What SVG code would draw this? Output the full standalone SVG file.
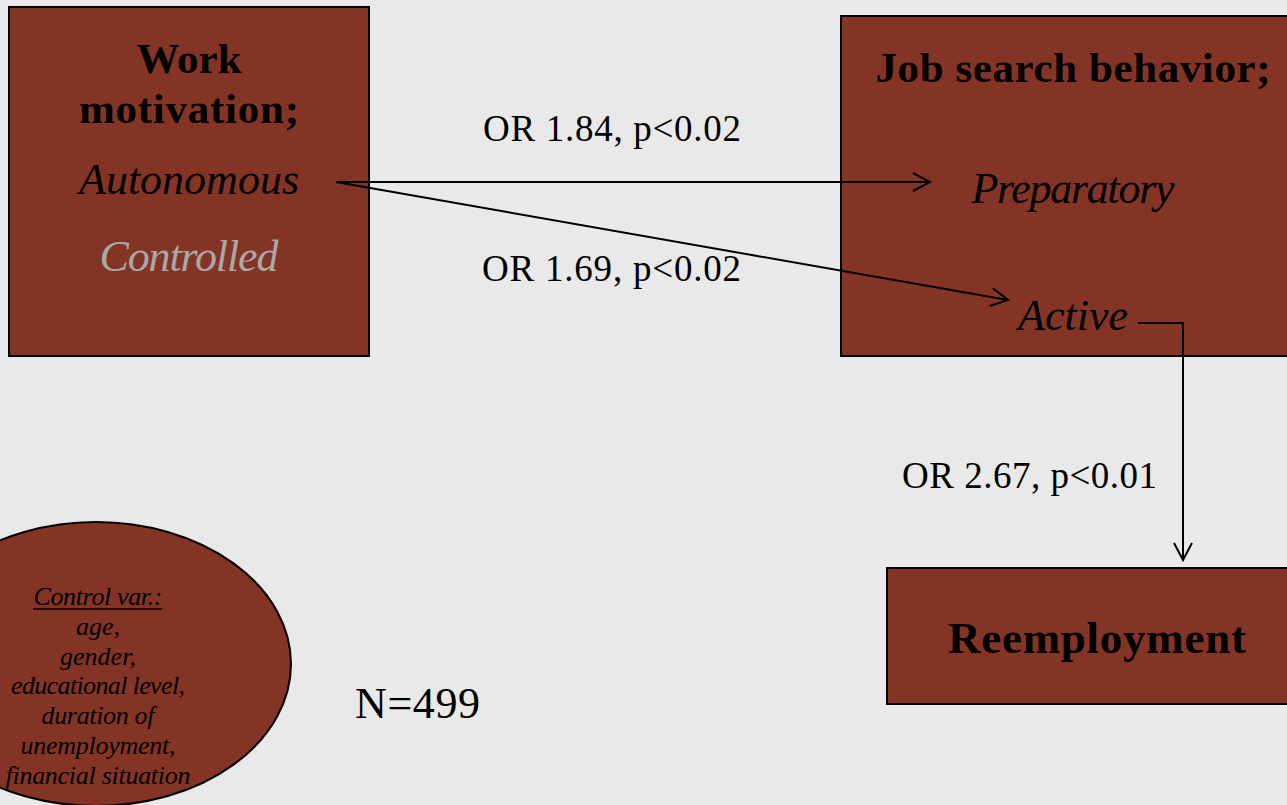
<svg xmlns="http://www.w3.org/2000/svg" width="1287" height="805" viewBox="0 0 1287 805">
<defs>
<style>
.box{fill:#843424;stroke:#000;stroke-width:2}
.t{font-family:"Liberation Serif","Times New Roman",serif;fill:#000}
.b{font-weight:bold;font-size:43px}
.i{font-style:italic;font-size:44px}
.lbl{font-size:37px}
.sm{font-style:italic;font-size:26px}
.c{stroke:#000;stroke-width:2;fill:none}
</style>
<marker id="arr" viewBox="0 0 20 20" refX="18" refY="10" markerWidth="20" markerHeight="20" markerUnits="userSpaceOnUse" orient="auto">
<path d="M1,1 L18,10 L1,19" fill="none" stroke="#000" stroke-width="2"/>
</marker>
</defs>
<rect width="1287" height="805" fill="#e9e9e9"/>
<g id="work-motivation">
<rect class="box" x="9" y="7" width="360" height="349"/>
<text class="t b" x="189" y="73" text-anchor="middle">Work</text>
<text class="t b" x="189" y="123" text-anchor="middle" textLength="220">motivation;</text>
<text class="t i" x="189" y="194" text-anchor="middle" textLength="220">Autonomous</text>
<text class="t i" x="189" y="271" text-anchor="middle" textLength="179" style="fill:#a9a9a9">Controlled</text>
</g>
<g id="job-search">
<rect class="box" x="841" y="16" width="450" height="340"/>
<text class="t b" x="1073" y="82" text-anchor="middle" textLength="395">Job search behavior;</text>
<text class="t i" x="1073" y="203" text-anchor="middle" textLength="203">Preparatory</text>
<text class="t i" x="1073" y="330" text-anchor="middle" textLength="110">Active</text>
</g>
<g id="reemployment">
<rect class="box" x="887" y="568" width="404" height="136"/>
<text class="t b" x="1097" y="653" text-anchor="middle" font-size="45" style="font-size:45px" textLength="298">Reemployment</text>
</g>
<g id="control-vars">
<ellipse cx="96" cy="664" rx="195" ry="142" fill="#843424" stroke="#000" stroke-width="2"/>
<text class="t sm" x="98" y="605" text-anchor="middle" textLength="129">Control var.:</text>
<line x1="33" y1="609" x2="162" y2="609" stroke="#000" stroke-width="1.5"/>
<text class="t sm" x="98" y="635" text-anchor="middle">age,</text>
<text class="t sm" x="98" y="665" text-anchor="middle">gender,</text>
<text class="t sm" x="98" y="694" text-anchor="middle" textLength="174">educational level,</text>
<text class="t sm" x="98" y="724" text-anchor="middle" textLength="113">duration of</text>
<text class="t sm" x="98" y="754" text-anchor="middle" textLength="155">unemployment,</text>
<text class="t sm" x="98" y="784" text-anchor="middle" textLength="185">financial situation</text>
</g>
<g id="n-label">
<text class="t" x="355" y="718" font-size="44" textLength="125">N=499</text>
</g>
<g id="connectors">
<line class="c" x1="336" y1="182" x2="930" y2="182" marker-end="url(#arr)"/>
<line class="c" x1="336" y1="182" x2="1008" y2="300" marker-end="url(#arr)"/>
<polyline class="c" points="1138,323 1183,323 1183,560" marker-end="url(#arr)"/>
<text class="t lbl" x="483" y="141" textLength="258">OR 1.84, p&lt;0.02</text>
<text class="t lbl" x="482" y="281" textLength="259">OR 1.69, p&lt;0.02</text>
<text class="t lbl" x="902" y="488" textLength="255">OR 2.67, p&lt;0.01</text>
</g>
</svg>
